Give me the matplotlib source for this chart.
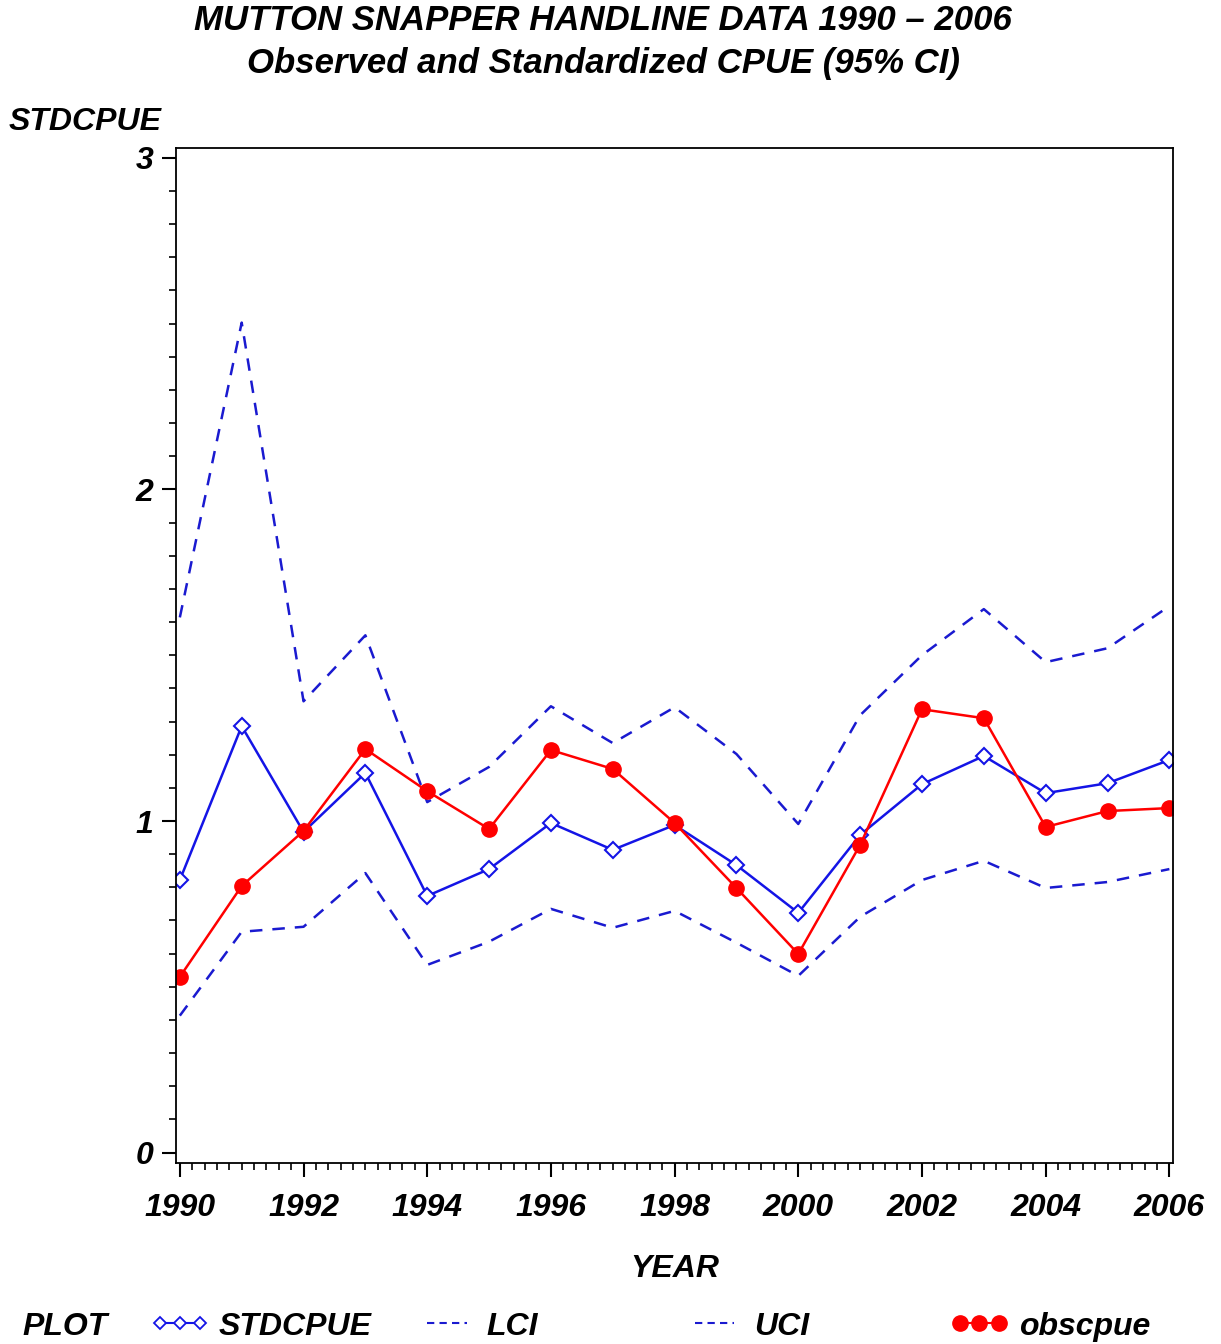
import matplotlib
matplotlib.use('Agg')
import matplotlib.pyplot as plt
from matplotlib.lines import Line2D
from matplotlib.ticker import MultipleLocator

years = list(range(1990, 2007))
stdcpue = [0.822, 1.286, 0.967, 1.145, 0.774, 0.855, 0.994, 0.913, 0.988, 0.867,
           0.723, 0.958, 1.111, 1.196, 1.084, 1.114, 1.184]
obscpue = [0.530, 0.804, 0.970, 1.217, 1.090, 0.976, 1.214, 1.157, 0.994, 0.798,
           0.599, 0.928, 1.337, 1.310, 0.982, 1.030, 1.039]
uci = [1.614, 2.503, 1.361, 1.560, 1.057, 1.163, 1.346, 1.235, 1.343, 1.202,
       0.991, 1.319, 1.500, 1.639, 1.479, 1.521, 1.648]
lci = [0.413, 0.666, 0.681, 0.843, 0.566, 0.636, 0.735, 0.678, 0.729, 0.633,
       0.533, 0.711, 0.822, 0.880, 0.798, 0.816, 0.855]

plt.rcParams['font.family'] = ['Liberation Sans', 'DejaVu Sans']
plt.rcParams['font.weight'] = 'bold'
plt.rcParams['font.style'] = 'italic'

blue = '#1414e6'
dblue = '#1a1ad0'
red = '#ff0000'

fig = plt.figure(figsize=(12.21, 13.44), dpi=100)
ax = fig.add_axes([0.144, 0.135, 0.817, 0.755])

ax.plot(years, uci, color=dblue, lw=1.8, ls=(0, (5, 4)))
ax.plot(years, lci, color=dblue, lw=1.8, ls=(0, (5, 4)))
ax.plot(years, stdcpue, color=blue, lw=1.8, marker='D', ms=8, mfc='white', mec=blue, mew=1.5)
ax.plot(years, obscpue, color=red, lw=1.8, marker='o', ms=11, mfc=red, mec=red)

ax.set_xlim(1989.935, 2006.065)
ax.set_ylim(-0.03, 3.03)
ax.xaxis.set_major_locator(MultipleLocator(2))
ax.xaxis.set_minor_locator(MultipleLocator(0.2))
ax.yaxis.set_major_locator(MultipleLocator(1))
ax.yaxis.set_minor_locator(MultipleLocator(0.1))
ax.tick_params(axis='both', which='major', length=10, width=1.5, labelsize=23, pad=12)
ax.tick_params(axis='both', which='minor', length=5, width=1.2)
ax.tick_params(axis='y', which='major', pad=6)
for s in ax.spines.values():
    s.set_linewidth(1.3)

ax.set_xlabel('YEAR', fontsize=23, fontweight='bold', labelpad=22)
fig.text(0.007, 0.909, 'STDCPUE', fontsize=23, ha='left', va='center')

fig.text(0.494, 0.985, 'MUTTON SNAPPER HANDLINE DATA 1990 \u2013 2006', fontsize=25, ha='center', va='center')
fig.text(0.494, 0.953, 'Observed and Standardized CPUE (95% CI)', fontsize=25, ha='center', va='center')

# legend row
fig.text(0.018, 0.013, 'PLOT', fontsize=23, ha='left', va='center')
entries = [
    (Line2D([], [], color=blue, lw=1.5, marker='D', ms=6, mfc='white', mec=blue, mew=1.3), 'STDCPUE', 0.123),
    (Line2D([], [], color=dblue, lw=1.5, ls=(0, (3.5, 2.5))), 'LCI', 0.342),
    (Line2D([], [], color=dblue, lw=1.5, ls=(0, (3.5, 2.5))), 'UCI', 0.561),
    (Line2D([], [], color=red, lw=1.5, marker='o', ms=11, mfc=red, mec=red), 'obscpue', 0.778),
]
for h, lab, xpos in entries:
    fig.legend(handles=[h], labels=[lab], loc='center left', bbox_to_anchor=(xpos, 0.013),
               frameon=False, fontsize=23, handlelength=1.85, handletextpad=0.3,
               borderaxespad=0, borderpad=0, numpoints=3)

fig.savefig('out.png', dpi=100)
